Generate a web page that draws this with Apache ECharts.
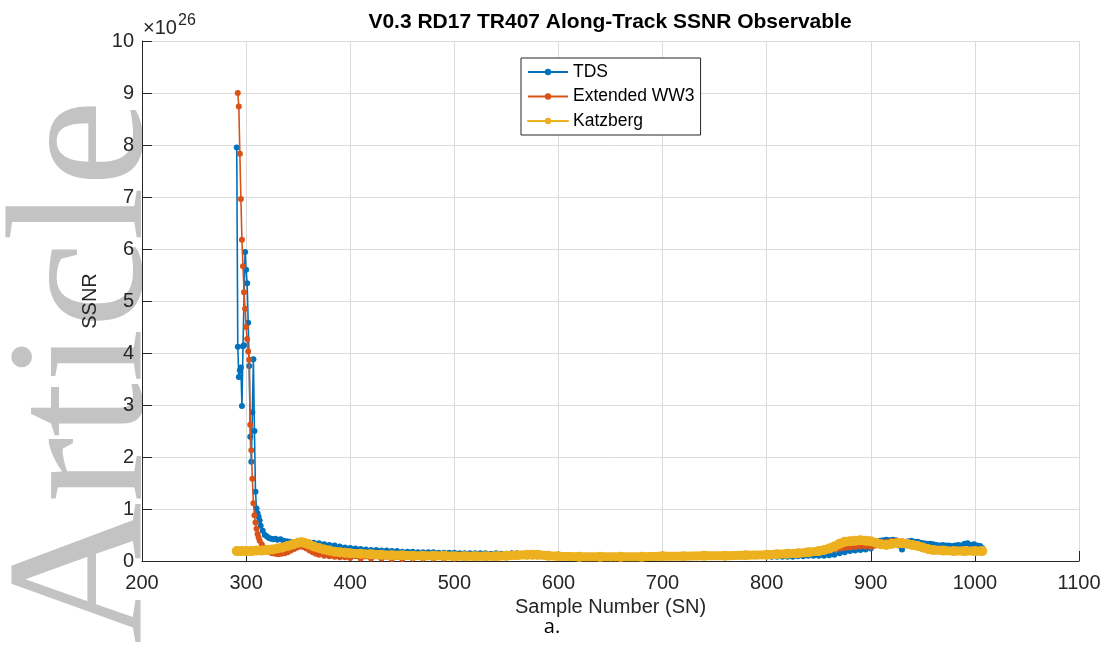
<!DOCTYPE html>
<html><head><meta charset="utf-8">
<script src="https://cdn.jsdelivr.net/npm/echarts@6/dist/echarts.min.js"></script>
<style>html,body{margin:0;padding:0;background:#fff}#c{width:1104px;height:662px}</style>
</head><body><div id="c"></div>
<script>
// Values are in units of 1e26
const tdsSN = [291,292,293,294,295,296,297,298,299,300,301,302,303,304,305,306,307,308,309,310,311,312,313,314,316,318,320,322,324,326,328,330,333,336,339,342,345,348,351,355,360,365,370,375,380,385,390,395,400,405,410,415,420,425,430,435,440,445,450,455,460,465,470,475,480,485,490,495,500,505,510,515,520,525,530,535,540,545,550,555,560,565,570,575,580,585,590,595,600,610,620,630,640,650,660,670,680,690,700,710,720,730,740,750,760,770,780,790,800,805,810,815,820,825,830,835,840,845,850,855,860,865,870,875,880,885,890,895,900,903,906,909,912,915,918,921,924,927,930,933,936,939,942,945,948,951,954,957,960,963,966,969,972,975,978,981,984,987,990,993,996,999,1002,1005,1007];
const tdsVal = [7.95,4.12,3.54,3.67,3.72,2.98,4.13,4.15,5.94,5.6,5.34,4.58,3.75,2.39,1.91,2.86,3.88,2.5,1.33,1.01,0.92,0.85,0.78,0.68,0.58,0.5,0.47,0.44,0.43,0.42,0.43,0.41,0.42,0.39,0.38,0.37,0.36,0.36,0.35,0.35,0.36,0.35,0.34,0.32,0.31,0.3,0.28,0.26,0.25,0.24,0.23,0.22,0.21,0.21,0.2,0.2,0.19,0.19,0.18,0.18,0.18,0.17,0.17,0.17,0.17,0.16,0.16,0.16,0.16,0.15,0.15,0.15,0.15,0.15,0.15,0.14,0.15,0.14,0.14,0.15,0.15,0.14,0.14,0.14,0.13,0.12,0.12,0.11,0.11,0.1,0.1,0.1,0.09,0.1,0.09,0.1,0.1,0.1,0.1,0.1,0.1,0.1,0.1,0.1,0.1,0.09,0.09,0.09,0.09,0.08,0.08,0.08,0.08,0.08,0.09,0.09,0.1,0.1,0.1,0.1,0.11,0.12,0.15,0.17,0.19,0.2,0.21,0.22,0.24,0.3,0.36,0.39,0.4,0.41,0.4,0.41,0.4,0.3,0.22,0.32,0.38,0.39,0.37,0.37,0.35,0.34,0.33,0.33,0.32,0.31,0.3,0.31,0.3,0.3,0.29,0.3,0.31,0.3,0.33,0.34,0.31,0.32,0.3,0.29,0.25];

const ww3SN = [292,293,294,295,296,297,298,299,300,301,302,303,304,305,306,307,308,309,310,311,312,313,315,317,319,321,323,325,328,331,334,337,340,343,346,349,352,355,358,361,364,367,370,375,380,385,390,395,400,410,420,430,440,450,460,470,480,490,500,510,520,530,540,550,560,570,580,590,600,620,640,660,680,700,720,740,760,780,800,810,820,830,840,850,855,860,865,870,875,880,885,890,895,900,905,910,915,920,925,930,935,940,945,950,955,960,970,980,990,1000,1007];
const ww3Val = [9.0,8.74,7.83,6.96,6.18,5.67,5.17,4.85,4.5,4.27,4.03,3.87,2.62,2.13,1.58,1.11,0.88,0.74,0.62,0.52,0.45,0.39,0.32,0.26,0.22,0.19,0.17,0.15,0.14,0.13,0.14,0.15,0.17,0.2,0.23,0.26,0.28,0.27,0.24,0.2,0.17,0.14,0.12,0.1,0.09,0.08,0.07,0.07,0.06,0.05,0.05,0.05,0.04,0.04,0.05,0.05,0.05,0.05,0.05,0.06,0.06,0.06,0.06,0.07,0.08,0.09,0.09,0.08,0.07,0.07,0.07,0.07,0.07,0.08,0.08,0.09,0.09,0.1,0.1,0.11,0.12,0.13,0.15,0.17,0.18,0.2,0.22,0.24,0.25,0.26,0.27,0.28,0.28,0.27,0.3,0.34,0.37,0.39,0.39,0.38,0.36,0.33,0.3,0.27,0.24,0.22,0.2,0.19,0.18,0.18,0.18];

const katSN = [291,295,300,305,310,315,320,325,330,335,340,345,350,353,356,360,365,370,375,380,385,390,395,400,410,420,430,440,450,460,470,480,490,500,510,520,530,540,550,560,570,575,580,590,600,620,640,660,680,700,720,740,760,780,800,810,820,830,840,850,855,860,865,870,875,880,885,890,895,900,905,910,915,920,925,930,935,940,945,950,955,960,970,980,990,1000,1007];
const katVal = [0.19,0.19,0.19,0.19,0.2,0.2,0.21,0.22,0.24,0.26,0.29,0.32,0.35,0.36,0.35,0.32,0.28,0.25,0.22,0.2,0.18,0.17,0.16,0.15,0.14,0.13,0.12,0.11,0.11,0.1,0.1,0.1,0.1,0.09,0.09,0.09,0.09,0.09,0.1,0.11,0.12,0.12,0.12,0.1,0.09,0.08,0.08,0.08,0.08,0.09,0.09,0.1,0.1,0.11,0.12,0.13,0.14,0.15,0.17,0.19,0.21,0.24,0.28,0.33,0.37,0.38,0.39,0.4,0.39,0.38,0.35,0.32,0.31,0.33,0.34,0.34,0.33,0.31,0.29,0.26,0.23,0.21,0.2,0.19,0.19,0.19,0.19];

const xTicks = {min: 200, max: 1100, interval: 100};
const yTicks = {min: 0, max: 10, interval: 1};
const seriesNames = ['TDS', 'Extended WW3', 'Katzberg'];
const colors = ['#0072BD', '#D95319', '#EDB120'];

function zip(a, b) { return a.map((v, i) => [v, b[i]]); }

const chart = echarts.init(document.getElementById('c'));
const FONT = '"Liberation Sans", Arial, sans-serif';
const axisCol = '#262626';
chart.setOption({
  animation: false,
  backgroundColor: '#fff',
  grid: {left: 142, right: 25, top: 41, bottom: 101, containLabel: false},
  xAxis: {
    type: 'value', min: xTicks.min, max: xTicks.max, interval: xTicks.interval,
    name: 'Sample Number (SN)', nameLocation: 'middle', nameGap: 30,
    nameTextStyle: {fontFamily: FONT, fontSize: 20, color: axisCol},
    axisLine: {show: true, onZero: false, lineStyle: {color: axisCol, width: 1}},
    axisTick: {show: true, inside: true, length: 10, lineStyle: {color: axisCol}},
    axisLabel: {fontFamily: FONT, fontSize: 20, color: axisCol, margin: 12, formatter: v => String(v)},
    splitLine: {show: true, lineStyle: {color: '#dcdcdc', width: 1}}
  },
  yAxis: {
    type: 'value', min: yTicks.min, max: yTicks.max, interval: yTicks.interval,
    name: 'SSNR', nameLocation: 'middle', nameGap: 41,
    nameTextStyle: {fontFamily: FONT, fontSize: 20, color: axisCol},
    axisLine: {show: true, onZero: false, lineStyle: {color: axisCol, width: 1}},
    axisTick: {show: true, inside: true, length: 10, lineStyle: {color: axisCol}},
    axisLabel: {fontFamily: FONT, fontSize: 20, color: axisCol, margin: 8, formatter: v => String(v)},
    splitLine: {show: true, lineStyle: {color: '#dcdcdc', width: 1}}
  },
  legend: {
    orient: 'vertical', left: 521, top: 58, z: 10,
    padding: [5, 6, 5, 6], itemGap: 6.5, itemWidth: 40, itemHeight: 8,
    backgroundColor: '#fff', borderColor: axisCol, borderWidth: 1, borderRadius: 0,
    textStyle: {fontFamily: FONT, fontSize: 17.5, color: '#000'},
    data: seriesNames.map(n => ({name: n, lineStyle: {width: 2}}))
  },
  graphic: [
    {type: 'text', x: 90, y: 644, rotation: Math.PI / 2, z: -10, silent: true,
     style: {text: 'Article', font: '196px "Liberation Serif", "Times New Roman", serif', fill: '#c3c3c3', align: 'left', verticalAlign: 'middle'}},
    {type: 'text', x: 610, y: 22, z: 10,
     style: {text: 'V0.3 RD17 TR407 Along-Track SSNR Observable', font: 'bold 21px ' + FONT, fill: '#000', align: 'center', verticalAlign: 'middle'}},
    {type: 'text', x: 143, y: 28, z: 10,
     style: {text: '×10', font: '20px ' + FONT, fill: axisCol, align: 'left', verticalAlign: 'middle'}},
    {type: 'text', x: 178, y: 21, z: 10,
     style: {text: '26', font: '16px ' + FONT, fill: axisCol, align: 'left', verticalAlign: 'middle'}},
    {type: 'text', x: 552, y: 627, z: 10,
     style: {text: 'a.', font: '20px "Open Sans", ' + FONT, fill: '#000', align: 'center', verticalAlign: 'middle'}}
  ],
  series: [
    {name: seriesNames[0], type: 'line', data: zip(tdsSN, tdsVal), z: 2,
     symbol: 'circle', symbolSize: 6, showAllSymbol: true,
     itemStyle: {color: colors[0]}, lineStyle: {color: colors[0], width: 1.6}},
    {name: seriesNames[1], type: 'line', data: zip(ww3SN, ww3Val), z: 3,
     symbol: 'circle', symbolSize: 6, showAllSymbol: true,
     itemStyle: {color: colors[1]}, lineStyle: {color: colors[1], width: 1.6}},
    {name: seriesNames[2], type: 'line', data: zip(katSN, katVal), z: 4,
     symbol: 'circle', symbolSize: 10, showAllSymbol: true,
     itemStyle: {color: colors[2]}, lineStyle: {color: colors[2], width: 9, cap: 'round', join: 'round'}}
  ]
});
</script></body></html>
